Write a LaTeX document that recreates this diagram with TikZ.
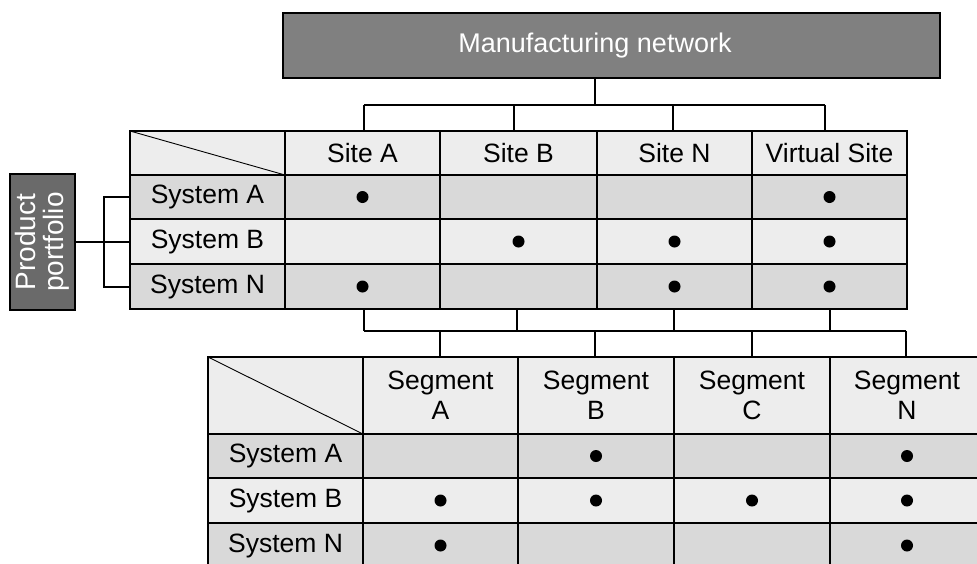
\documentclass[tikz,border=0pt]{standalone}
\usepackage{fontspec}
\setmainfont{Liberation Sans}
\definecolor{netbox}{HTML}{808080}
\definecolor{portbox}{HTML}{6A6A6A}
\definecolor{rowdark}{HTML}{D9D9D9}
\definecolor{rowlight}{HTML}{EDEDED}
\tikzset{
  cell/.style={draw=black, line width=1.1pt, inner sep=0pt, outer sep=0pt,
    font=\fontsize{26.5}{30}\selectfont, align=center},
  greybox/.style={draw=black, line width=1.1pt, inner sep=0pt, outer sep=0pt},
  whitetext/.style={text=white, inner sep=0pt, align=center},
  dot/.style={circle, fill=black, inner sep=0pt, minimum size=12pt},
  link/.style={draw=black, line width=2pt},
  diag/.style={draw=black, line width=0.9pt},
}
% \tcell{name}{left}{top}{width}{height}{fill}{text}
\newcommand\tcell[7]{%
  \node[cell, fill=#6, minimum width=#4pt, minimum height=#5pt]
    (#1) at ({#2+#4/2},{#3+#5/2}) {#7};}
\begin{document}
\begin{tikzpicture}[x=1pt,y=-1pt]
\useasboundingbox (0,0) rectangle (977,563);
\clip (0,0) rectangle (977,563);

% ---------- top box ----------
\node[greybox, fill=netbox, minimum width=657pt, minimum height=65pt]
  (mfg) at (611.5,45.5) {};
\node[whitetext, font=\fontsize{27}{30}\selectfont]
  (mfgtext) at (595,45.5) {Manufacturing network};

% ---------- site table ----------
\tcell{hc}{130}{131}{155}{44}{rowlight}{}
\tcell{hA}{285}{131}{155}{44}{rowlight}{Site A}
\tcell{hB}{440}{131}{157}{44}{rowlight}{Site B}
\tcell{hN}{597}{131}{155}{44}{rowlight}{Site N}
\tcell{hV}{752}{131}{155}{44}{rowlight}{Virtual Site}
\draw[diag] (hc.north west) -- (hc.south east);

\tcell{sA}{130}{175}{155}{44}{rowdark}{System A}
\tcell{sA1}{285}{175}{155}{44}{rowdark}{}
\tcell{sA2}{440}{175}{157}{44}{rowdark}{}
\tcell{sA3}{597}{175}{155}{44}{rowdark}{}
\tcell{sA4}{752}{175}{155}{44}{rowdark}{}

\tcell{sB}{130}{219}{155}{45}{rowlight}{System B}
\tcell{sB1}{285}{219}{155}{45}{rowlight}{}
\tcell{sB2}{440}{219}{157}{45}{rowlight}{}
\tcell{sB3}{597}{219}{155}{45}{rowlight}{}
\tcell{sB4}{752}{219}{155}{45}{rowlight}{}

\tcell{sN}{130}{264}{155}{45}{rowdark}{System N}
\tcell{sN1}{285}{264}{155}{45}{rowdark}{}
\tcell{sN2}{440}{264}{157}{45}{rowdark}{}
\tcell{sN3}{597}{264}{155}{45}{rowdark}{}
\tcell{sN4}{752}{264}{155}{45}{rowdark}{}

\node[dot] (dA1) at (sA1) {};
\node[dot] (dA4) at (sA4) {};
\node[dot] (dB2) at (sB2) {};
\node[dot] (dB3) at (sB3) {};
\node[dot] (dB4) at (sB4) {};
\node[dot] (dN1) at (sN1) {};
\node[dot] (dN3) at (sN3) {};
\node[dot] (dN4) at (sN4) {};

% ---------- product portfolio ----------
\node[greybox, fill=portbox, minimum width=65pt, minimum height=136pt]
  (pp) at (42.5,242) {};
\node[whitetext, rotate=90, font=\fontsize{28}{28}\selectfont]
  (pptext) at (pp.center) {Product\\portfolio};

\coordinate (brk) at (104,242);
\draw[link] (pp.east |- brk) -- (sB.west |- brk);
\draw[link] (sA.west |- 0,197) -| (brk |- sN.west) -- (sN.west);
\draw[link] (brk |- 0,197) -- (sA.west |- 0,197);

% ---------- network to sites ----------
\coordinate (nt) at (595,105);
\coordinate (ntL) at (364,105);
\coordinate (ntR) at (825,105);
\draw[link] (mfg.south -| nt) -- (nt);
\draw[link] (ntL) -- (ntR);
\draw[link] (ntL) -- (ntL |- hA.north);
\draw[link] (514,105) -- (514,131);
\draw[link] (673,105) -- (673,131);
\draw[link] (ntR) -- (ntR |- hV.north);

% ---------- segment table ----------
\tcell{gc}{208}{357}{155}{77}{rowlight}{}
\tcell{gA}{363}{357}{155}{77}{rowlight}{Segment\\A}
\tcell{gB}{518}{357}{156}{77}{rowlight}{Segment\\B}
\tcell{gC}{674}{357}{156}{77}{rowlight}{Segment\\C}
\tcell{gN}{830}{357}{154}{77}{rowlight}{Segment\\N}
\draw[diag] (gc.north west) -- (gc.south east);

\tcell{tA}{208}{434}{155}{44}{rowdark}{System A}
\tcell{tA1}{363}{434}{155}{44}{rowdark}{}
\tcell{tA2}{518}{434}{156}{44}{rowdark}{}
\tcell{tA3}{674}{434}{156}{44}{rowdark}{}
\tcell{tA4}{830}{434}{154}{44}{rowdark}{}

\tcell{tB}{208}{478}{155}{45}{rowlight}{System B}
\tcell{tB1}{363}{478}{155}{45}{rowlight}{}
\tcell{tB2}{518}{478}{156}{45}{rowlight}{}
\tcell{tB3}{674}{478}{156}{45}{rowlight}{}
\tcell{tB4}{830}{478}{154}{45}{rowlight}{}

\tcell{tN}{208}{523}{155}{45}{rowdark}{System N}
\tcell{tN1}{363}{523}{155}{45}{rowdark}{}
\tcell{tN2}{518}{523}{156}{45}{rowdark}{}
\tcell{tN3}{674}{523}{156}{45}{rowdark}{}
\tcell{tN4}{830}{523}{154}{45}{rowdark}{}
\draw[line width=2pt] (tN.north west) -- (tN4.north east);

\node[dot] (eA2) at (tA2) {};
\node[dot] (eA4) at (tA4) {};
\node[dot] (eB1) at (tB1) {};
\node[dot] (eB2) at (tB2) {};
\node[dot] (eB3) at (tB3) {};
\node[dot] (eB4) at (tB4) {};
\node[dot] (eN1) at (tN1) {};
\node[dot] (eN4) at (tN4) {};

% ---------- sites to segments ----------
\coordinate (sgL) at (364,331);
\coordinate (sgR) at (906,331);
\draw[link] (sgL) -- (sgR);
\draw[link] (sN.south -| sgL) -- (sgL);
\draw[link] (517,309) -- (517,331);
\draw[link] (674,309) -- (674,331);
\draw[link] (830,309) -- (830,331);
\draw[link] (440,331) -- (440,357);
\draw[link] (595,331) -- (595,357);
\draw[link] (752,331) -- (752,357);
\draw[link] (sgR) -- (sgR |- gN.north);
\end{tikzpicture}
\end{document}
